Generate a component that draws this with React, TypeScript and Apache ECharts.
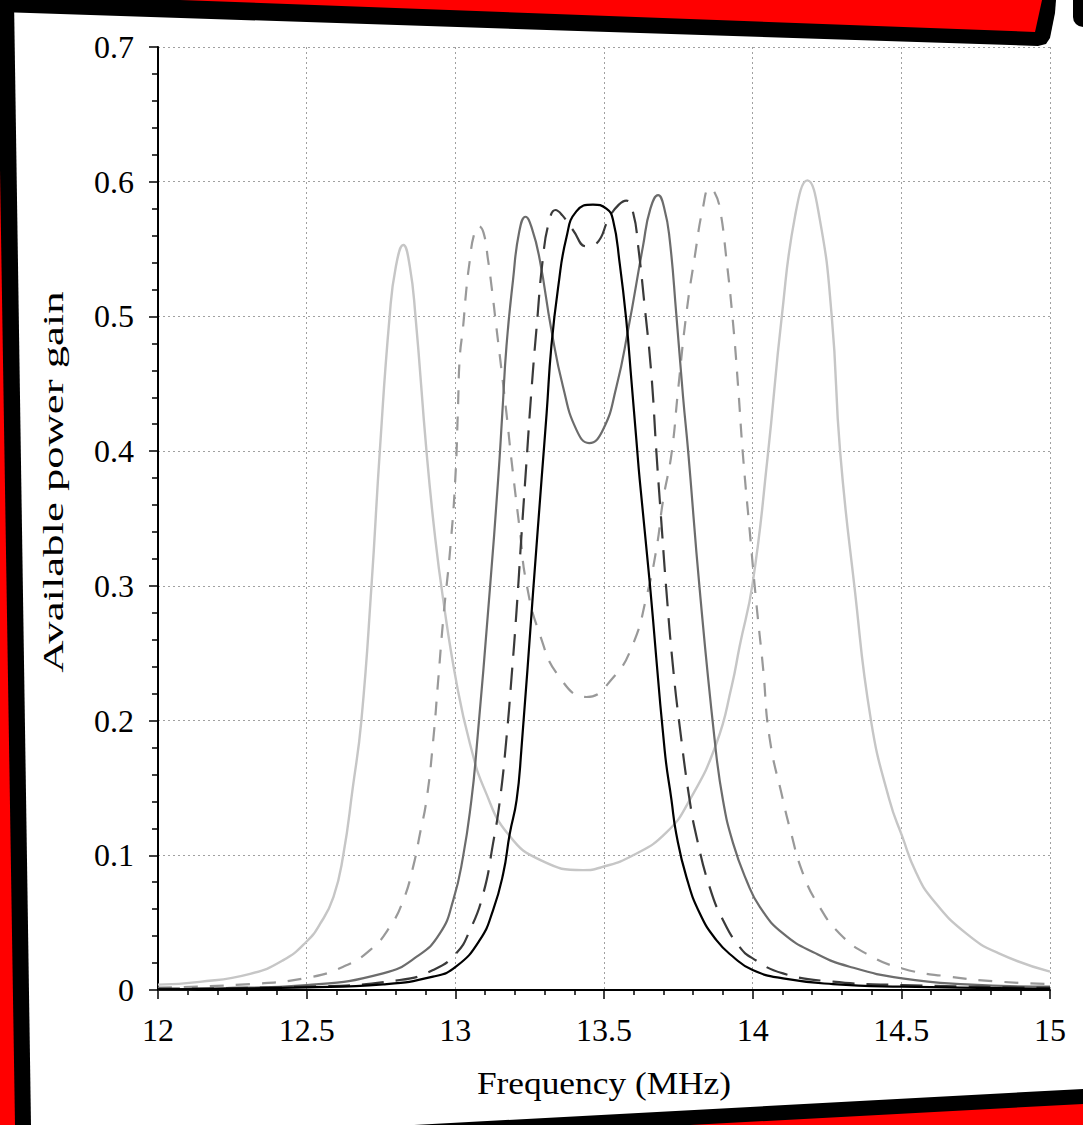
import React, { useEffect, useRef } from "react";
import * as echarts from "echarts";

// ---- data ----
const xLabelTicks = [12, 12.5, 13, 13.5, 14, 14.5, 15];
const yLabelTicks = [0, 0.1, 0.2, 0.3, 0.4, 0.5, 0.6, 0.7];

// light grey solid curve (widest split)
const lightFreq = [12.0, 12.14, 12.31, 12.42, 12.5, 12.545, 12.59, 12.623, 12.655, 12.684, 12.718, 12.746, 12.779, 12.8, 12.825, 12.847, 12.866, 12.903, 12.93, 12.959, 13.004, 13.049, 13.1, 13.18, 13.29, 13.43, 13.49, 13.598, 13.71, 13.788, 13.878, 13.93, 13.956, 14.0, 14.05, 14.098, 14.143, 14.184, 14.225, 14.266, 14.294, 14.342, 14.398, 14.46, 14.503, 14.55, 14.606, 14.718, 14.83, 15.0];
const lightGain = [0.004, 0.006, 0.012, 0.022, 0.036, 0.049, 0.069, 0.1, 0.15, 0.2, 0.3, 0.4, 0.5, 0.537, 0.553, 0.537, 0.5, 0.4, 0.34, 0.29, 0.228, 0.183, 0.148, 0.115, 0.096, 0.089, 0.091, 0.1, 0.117, 0.141, 0.183, 0.226, 0.255, 0.302, 0.395, 0.5, 0.575, 0.601, 0.573, 0.5, 0.4, 0.3, 0.2, 0.141, 0.114, 0.087, 0.067, 0.042, 0.027, 0.0136];

// medium-light grey short-dash curve
const dashLightFreq = [12.0, 12.31, 12.5, 12.623, 12.713, 12.78, 12.825, 12.858, 12.881, 12.903, 12.925, 12.942, 12.96, 12.983, 13.0, 13.009, 13.015, 13.026, 13.037, 13.049, 13.062, 13.079, 13.095, 13.11, 13.122, 13.138, 13.15, 13.172, 13.189, 13.217, 13.239, 13.284, 13.351, 13.441, 13.531, 13.598, 13.643, 13.676, 13.699, 13.727, 13.749, 13.777, 13.805, 13.833, 13.855, 13.872, 13.889, 13.911, 13.934, 13.951, 13.967, 13.99, 14.012, 14.035, 14.057, 14.102, 14.124, 14.169, 14.225, 14.292, 14.382, 14.503, 14.662, 14.83, 15.0];
const dashLightGain = [0.0017, 0.0044, 0.009, 0.0173, 0.0296, 0.047, 0.0667, 0.0914, 0.116, 0.141, 0.184, 0.229, 0.277, 0.328, 0.38, 0.433, 0.47, 0.492, 0.52, 0.542, 0.56, 0.567, 0.562, 0.542, 0.522, 0.492, 0.47, 0.428, 0.393, 0.341, 0.302, 0.264, 0.232, 0.2175, 0.232, 0.257, 0.292, 0.327, 0.364, 0.398, 0.445, 0.502, 0.544, 0.581, 0.595, 0.592, 0.581, 0.544, 0.495, 0.448, 0.398, 0.341, 0.288, 0.239, 0.187, 0.141, 0.121, 0.0866, 0.0617, 0.042, 0.027, 0.016, 0.0099, 0.0062, 0.0044];

// medium grey solid curve
const midFreq = [12.0, 12.2, 12.5, 12.757, 12.87, 12.948, 12.993, 13.026, 13.054, 13.071, 13.116, 13.144, 13.158, 13.172, 13.194, 13.215, 13.236, 13.258, 13.284, 13.323, 13.362, 13.407, 13.45, 13.497, 13.542, 13.581, 13.631, 13.656, 13.682, 13.703, 13.721, 13.743, 13.766, 13.783, 13.822, 13.872, 13.9, 13.934, 13.979, 14.024, 14.102, 14.214, 14.326, 14.503, 14.72, 15.0];
const midGain = [0.0005, 0.0012, 0.0037, 0.0123, 0.0247, 0.042, 0.0667, 0.099, 0.141, 0.178, 0.297, 0.379, 0.428, 0.478, 0.527, 0.563, 0.574, 0.565, 0.542, 0.49, 0.448, 0.416, 0.406, 0.416, 0.448, 0.49, 0.552, 0.58, 0.59, 0.58, 0.557, 0.502, 0.44, 0.4, 0.297, 0.186, 0.141, 0.109, 0.0815, 0.0617, 0.042, 0.027, 0.0173, 0.0086, 0.0042, 0.0025];

// dark grey long-dash curve
const dashDarkFreq = [12.0, 12.5, 12.813, 12.925, 13.002, 13.049, 13.094, 13.127, 13.15, 13.172, 13.189, 13.206, 13.222, 13.239, 13.256, 13.273, 13.295, 13.315, 13.337, 13.36, 13.396, 13.441, 13.474, 13.519, 13.55, 13.575, 13.598, 13.615, 13.637, 13.659, 13.676, 13.693, 13.71, 13.732, 13.755, 13.788, 13.811, 13.855, 13.9, 13.956, 14.0, 14.102, 14.27, 14.5, 15.0];
const dashDarkGain = [0.001, 0.0025, 0.0074, 0.0148, 0.027, 0.0444, 0.0716, 0.109, 0.141, 0.187, 0.232, 0.282, 0.336, 0.391, 0.445, 0.491, 0.544, 0.57, 0.579, 0.575, 0.564, 0.552, 0.554, 0.574, 0.583, 0.586, 0.577, 0.552, 0.507, 0.458, 0.4, 0.347, 0.296, 0.24, 0.195, 0.141, 0.114, 0.0765, 0.052, 0.032, 0.0235, 0.0123, 0.0062, 0.0037, 0.0017];

// black solid curve (single peak)
const blackFreq = [12.0, 12.5, 12.757, 12.925, 13.002, 13.082, 13.127, 13.161, 13.183, 13.206, 13.222, 13.262, 13.29, 13.307, 13.323, 13.346, 13.374, 13.407, 13.463, 13.508, 13.53, 13.553, 13.575, 13.592, 13.609, 13.62, 13.654, 13.704, 13.727, 13.743, 13.777, 13.822, 13.878, 13.934, 14.0, 14.102, 14.27, 14.5, 15.0];
const blackGain = [0.0005, 0.002, 0.0042, 0.0099, 0.0173, 0.037, 0.0593, 0.0864, 0.116, 0.141, 0.178, 0.297, 0.379, 0.428, 0.478, 0.522, 0.559, 0.578, 0.583, 0.58, 0.572, 0.539, 0.497, 0.453, 0.408, 0.379, 0.302, 0.178, 0.141, 0.116, 0.084, 0.057, 0.037, 0.0247, 0.0148, 0.0086, 0.0044, 0.0025, 0.001];

const zip = (xs: number[], ys: number[]) => xs.map((x, i) => [x, ys[i]]);

const SERIF = "Liberation Serif";

export default function App() {
  const ref = useRef<HTMLDivElement | null>(null);

  useEffect(() => {
    if (!ref.current) return;
    const chart = echarts.init(ref.current, undefined, { renderer: "svg" });

    const lineSeries = (name: string, data: number[][], color: string, width: number, type: any, z: number) => ({
      name,
      type: "line",
      data,
      showSymbol: false,
      symbol: "none",
      smooth: 0.5,
      z,
      lineStyle: { color, width, type, cap: "butt", join: "round" },
    });

    const option: any = {
      animation: false,
      backgroundColor: "#ffffff",
      grid: { left: 158, top: 47, width: 892, height: 943, containLabel: false },
      xAxis: {
        type: "value",
        min: 12,
        max: 15,
        interval: 0.5,
        axisLine: { show: true, onZero: false, lineStyle: { color: "#000", width: 2 } },
        axisTick: { show: true, inside: false, length: 9, lineStyle: { color: "#000", width: 1.5 } },
        minorTick: { show: true, splitNumber: 5, length: 5, lineStyle: { color: "#000", width: 1.5 } },
        axisLabel: {
          color: "#000",
          fontFamily: SERIF,
          fontSize: 32,
          margin: 24,
          formatter: (v: number) => (xLabelTicks.includes(v) ? String(v) : ""),
        },
        splitLine: { show: true, lineStyle: { color: "#a0a0a0", width: 1, type: [2, 3] } },
      },
      yAxis: {
        type: "value",
        min: 0,
        max: 0.7,
        interval: 0.1,
        axisLine: { show: true, onZero: false, lineStyle: { color: "#000", width: 2 } },
        axisTick: { show: true, inside: false, length: 9, lineStyle: { color: "#000", width: 1.5 } },
        minorTick: { show: true, splitNumber: 5, length: 6, lineStyle: { color: "#000", width: 1.5 } },
        axisLabel: {
          color: "#000",
          fontFamily: SERIF,
          fontSize: 32,
          margin: 24,
          formatter: (v: number) => {
            const t = yLabelTicks.find((k) => Math.abs(k - v) < 1e-9);
            if (t === undefined) return "";
            return t === 0 ? "0" : t.toFixed(1);
          },
        },
        splitLine: { show: true, lineStyle: { color: "#a0a0a0", width: 1, type: [2, 3] } },
      },
      series: [
        lineSeries("light", zip(lightFreq, lightGain), "#c6c6c6", 2.4, "solid", 2),
        lineSeries("dashLight", zip(dashLightFreq, dashLightGain), "#999999", 2.2, [14, 12], 3),
        lineSeries("mid", zip(midFreq, midGain), "#6c6c6c", 2.2, "solid", 4),
        lineSeries("dashDark", zip(dashDarkFreq, dashDarkGain), "#3a3a3a", 2.2, [22, 12], 5),
        lineSeries("black", zip(blackFreq, blackGain), "#000000", 2.2, "solid", 6),
      ],
      graphic: [
        {
          type: "text",
          x: 604,
          y: 1083,
          scaleX: 1.14,
          z: 50,
          style: {
            text: "Frequency (MHz)",
            fontFamily: SERIF,
            fontSize: 31,
            fill: "#000",
            align: "center",
            verticalAlign: "middle",
          },
        },
        {
          type: "text",
          x: 53,
          y: 482,
          rotation: Math.PI / 2,
          scaleX: 1.49,
          z: 50,
          style: {
            text: "Available power gain",
            fontFamily: SERIF,
            fontSize: 30,
            fill: "#000",
            align: "center",
            verticalAlign: "middle",
          },
        },
        // decorative frame (black borders with red fill)
        {
          type: "polygon",
          z: 100,
          shape: { points: [[0, 0], [1056, 0], [1055, 13], [1050, 38], [1046, 44], [1038, 46], [0, 12]] },
          style: { fill: "#000" },
        },
        {
          type: "polygon",
          z: 101,
          shape: { points: [[180, 0], [1042, 0], [1035, 32]] },
          style: { fill: "#ff0000" },
        },
        {
          type: "rect",
          z: 100,
          shape: { x: 1073, y: -12, width: 24, height: 39, r: 10 },
          style: { fill: "#000" },
        },
        {
          type: "polygon",
          z: 100,
          shape: { points: [[0, 0], [14, 0], [31, 1125], [0, 1125]] },
          style: { fill: "#000" },
        },
        {
          type: "polygon",
          z: 101,
          shape: { points: [[0, 170], [15, 1125], [0, 1125]] },
          style: { fill: "#ff0000" },
        },
        {
          type: "polygon",
          z: 100,
          shape: { points: [[414, 1125], [1083, 1089], [1083, 1125]] },
          style: { fill: "#000" },
        },
        {
          type: "polygon",
          z: 101,
          shape: { points: [[690, 1125], [1083, 1104], [1083, 1125]] },
          style: { fill: "#ff0000" },
        },
      ],
    };

    chart.setOption(option);
    return () => chart.dispose();
  }, []);

  return (
    <div
      ref={ref}
      style={{ position: "fixed", left: 0, top: 0, width: 1083, height: 1125, background: "#fff" }}
    />
  );
}
